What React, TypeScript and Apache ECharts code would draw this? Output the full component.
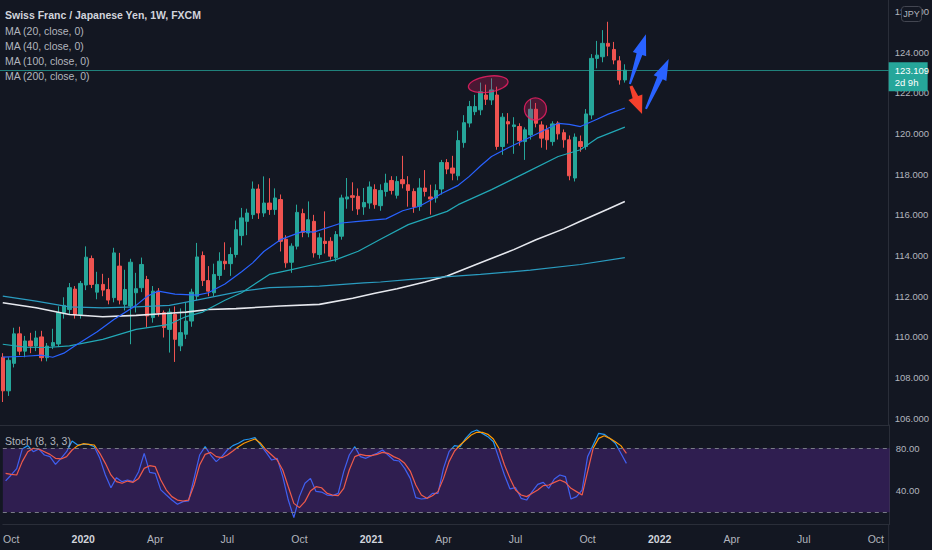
import React, { useEffect, useRef } from 'react';
import * as echarts from 'echarts';

// ---------- data ----------
const START = Date.UTC(2019, 8, 30); // first weekly bar (Mon 30 Sep 2019)
const WEEK_COUNT = 160;
const MONTHS = ['Jan', 'Feb', 'Mar', 'Apr', 'May', 'Jun', 'Jul', 'Aug', 'Sep', 'Oct', 'Nov', 'Dec'];
const weeks: string[] = [];
for (let i = 0; i < WEEK_COUNT; i++) {
  weeks.push(new Date(START + i * 7 * 86400000).toISOString().slice(0, 10));
}

// [open, close, low, high]
const candles: number[][] = [
  [109.0, 107.35, 106.8, 109.2], [107.35, 108.85, 107.1, 109.0], [108.7, 110.15, 108.5, 110.45], [110.15, 109.3, 109.1, 110.5],
  [109.3, 109.8, 109.0, 110.05], [109.8, 109.55, 109.2, 110.2], [109.55, 109.95, 109.3, 110.3], [110.0, 108.98, 108.8, 110.3],
  [108.98, 109.55, 108.8, 109.7], [109.55, 109.72, 109.4, 110.4], [109.65, 111.2, 109.5, 111.5], [111.2, 111.55, 110.9, 111.95],
  [111.35, 112.42, 111.1, 112.65], [112.35, 111.1, 110.9, 112.5], [111.1, 112.63, 110.9, 112.75], [112.55, 113.92, 112.3, 114.45],
  [113.85, 112.58, 112.4, 114.0], [112.2, 112.58, 111.85, 113.2], [112.58, 112.3, 112.0, 113.1], [112.33, 111.81, 111.6, 112.9],
  [111.93, 114.13, 111.7, 114.38], [113.48, 111.81, 111.6, 114.13], [111.6, 112.33, 111.3, 113.3], [111.52, 113.67, 109.64, 113.84],
  [112.17, 112.37, 111.2, 113.15], [112.42, 113.56, 112.2, 113.9], [112.82, 111.03, 110.46, 113.0], [110.95, 112.25, 110.7, 112.5],
  [112.25, 111.19, 111.0, 112.4], [111.19, 110.46, 109.97, 111.3], [110.37, 111.22, 109.23, 111.4], [111.1, 109.88, 108.77, 111.5],
  [109.56, 110.21, 109.3, 111.4], [110.13, 110.78, 109.9, 111.68], [110.78, 112.2, 110.5, 112.37], [112.0, 113.93, 111.8, 114.62],
  [114.0, 112.77, 112.5, 114.2], [112.77, 112.25, 112.0, 113.48], [112.17, 113.07, 112.0, 113.6], [113.02, 113.72, 112.8, 114.16],
  [113.72, 113.6, 113.3, 114.65], [113.6, 114.05, 113.0, 114.4], [114.05, 115.27, 113.9, 115.72], [114.98, 115.85, 114.5, 116.34],
  [115.68, 116.09, 115.0, 116.3], [116.01, 117.27, 115.8, 117.64], [117.27, 116.09, 115.8, 117.5], [116.09, 116.58, 115.9, 117.89],
  [116.58, 116.26, 116.0, 117.8], [116.26, 116.83, 116.0, 117.3], [116.75, 114.7, 114.2, 117.0], [114.8, 113.64, 113.4, 115.0],
  [113.67, 114.46, 113.15, 114.6], [114.46, 116.12, 114.3, 116.5], [116.06, 115.14, 114.9, 116.3], [115.11, 115.76, 114.9, 116.66],
  [115.68, 114.13, 113.9, 116.0], [114.05, 114.87, 113.85, 115.1], [114.7, 114.59, 114.1, 116.17], [114.7, 113.97, 113.8, 114.9],
  [113.89, 115.03, 113.7, 115.2], [114.95, 116.83, 114.78, 116.99], [116.78, 116.88, 116.3, 117.81], [116.94, 116.86, 116.2, 117.6],
  [116.91, 116.29, 116.0, 117.3], [116.39, 116.61, 116.0, 117.32], [116.58, 117.37, 116.3, 117.64], [117.24, 116.5, 116.3, 117.5],
  [116.45, 117.2, 116.2, 117.5], [117.15, 117.56, 116.9, 118.02], [117.69, 117.2, 117.0, 117.9], [116.96, 117.64, 116.8, 117.9],
  [117.73, 117.53, 117.3, 118.9], [117.48, 117.2, 116.4, 117.9], [117.15, 116.39, 116.1, 117.3], [116.42, 117.32, 116.2, 117.8],
  [117.32, 117.15, 116.9, 118.2], [116.88, 116.78, 116.01, 117.48], [116.83, 117.2, 116.6, 117.5], [117.27, 118.57, 117.0, 118.7],
  [118.57, 118.25, 118.0, 118.74], [118.3, 118.05, 117.7, 118.9], [117.92, 119.65, 117.7, 120.14], [119.55, 120.53, 119.3, 120.9],
  [120.51, 121.32, 120.3, 121.6], [121.07, 121.32, 120.9, 121.9], [121.16, 122.05, 120.9, 122.5], [121.89, 121.68, 121.4, 122.4],
  [121.65, 122.14, 121.4, 122.71], [121.89, 119.36, 119.2, 122.3], [119.36, 120.8, 118.95, 121.0], [120.58, 120.47, 119.5, 121.0],
  [120.34, 120.42, 119.0, 120.8], [120.34, 119.65, 119.4, 120.5], [119.6, 120.18, 118.7, 120.3], [119.93, 121.19, 119.7, 121.7],
  [121.19, 120.5, 120.3, 121.5], [120.42, 119.77, 119.3, 120.6], [120.18, 119.69, 119.2, 120.4], [119.6, 120.47, 119.4, 120.6],
  [120.51, 119.98, 119.7, 120.6], [120.04, 119.69, 119.3, 120.2], [119.69, 117.92, 117.7, 119.9], [117.81, 119.82, 117.64, 120.0],
  [119.6, 119.36, 119.1, 119.9], [119.36, 120.96, 119.2, 121.2], [120.91, 123.69, 120.7, 123.9], [123.69, 123.85, 123.2, 124.55],
  [123.77, 124.43, 123.5, 125.08], [124.43, 124.29, 123.8, 125.49], [124.13, 123.61, 123.4, 124.5], [123.57, 122.63, 122.4, 123.8],
  [122.63, 123.109, 122.5, 123.4],
];
const lastPrice = 123.109;

// moving averages, read at bar indexes: [barIndex, value]
const ma20Pts = [
  [0, 109.01], [4, 109.05], [7, 109.1], [9, 109.0], [11, 109.2], [13, 109.56], [17, 110.25], [20, 110.86], [24, 111.55],
  [26, 112.0], [28, 112.25], [31, 112.1], [35, 112.05], [37, 112.17], [40, 112.6], [43, 113.2], [45, 113.64], [47, 114.2],
  [50, 114.78], [54, 115.19], [56, 115.15], [61, 115.6], [64, 115.68], [69, 115.8], [72, 116.2], [75, 116.42], [77, 116.72],
  [79, 117.05], [82, 117.45], [84, 117.89], [86, 118.4], [88, 118.87], [91, 119.3], [94, 119.69], [97, 120.1], [100, 120.5],
  [102, 120.45], [104, 120.34], [107, 120.7], [109, 120.95], [112, 121.25],
];
const ma40Pts = [
  [0, 109.64], [4, 109.5], [8, 109.48], [12, 109.56], [18, 109.88], [24, 110.37], [30, 110.62], [33, 111.0], [36, 111.22],
  [40, 111.8], [43, 112.17], [48, 113.07], [52, 113.31], [56, 113.56], [60, 113.8], [64, 114.21], [68, 114.8], [73, 115.52],
  [80, 116.17], [82, 116.5], [84, 116.75], [88, 117.24], [94, 118.05], [100, 118.87], [104, 119.2], [107, 119.77], [112, 120.31],
];
const ma100Pts = [
  [0, 112.0], [6, 111.76], [12, 111.48], [18, 111.43], [24, 111.48], [30, 111.55], [34, 111.76], [43, 112.25], [48, 112.42],
  [57, 112.5], [65, 112.66], [68, 112.7], [73, 112.82], [77, 112.9], [86, 113.07], [95, 113.28], [104, 113.56], [112, 113.9],
];
const ma200Pts = [
  [0, 111.68], [6, 111.43], [12, 111.1], [18, 110.99], [24, 111.06], [30, 111.16], [33, 111.22], [37, 111.35], [42, 111.39],
  [50, 111.52], [57, 111.6], [63, 111.9], [67, 112.15], [71, 112.37], [76, 112.7], [80, 112.99], [86, 113.64], [92, 114.29],
  [96, 114.78], [101, 115.31], [104, 115.68], [109, 116.29], [112, 116.66],
];

// stochastic (8,3,3)
const stochK = [
  49.4, 55, 61, 79.3, 82.5, 76.8, 79.3, 73.7, 72.2, 65, 70.6, 76.8, 86.8, 83.1, 83.7, 83.7, 81.5, 70.6, 55, 43.1,
  52.5, 48.7, 50.3, 48.7, 58.1, 75.3, 57.5, 56.5, 41, 36.2, 31.5, 27.5, 30, 30.6, 51.8, 73.7, 81.5, 73.7, 67.5, 72.2,
  78.4, 82.5, 84.7, 87.8, 88.7, 90, 83.1, 76.2, 69, 70.6, 53.4, 31.5, 15, 34.7, 47.2, 51.8, 39.6, 39, 36.2, 35.6,
  37.8, 58.1, 73.7, 81.5, 72.2, 70.6, 73.1, 75.3, 78.4, 73.7, 69, 68.1, 61.2, 51.8, 33.7, 32.5, 33.1, 37.8, 37.8, 61.2,
  76.8, 82.5, 81.5, 89.3, 95, 97.2, 94, 90.9, 86.2, 70.6, 55, 41.9, 43.1, 33.1, 31.5, 39.4, 46.2, 48.1, 42.5, 51.2,
  55, 53.4, 32.5, 34.7, 40.9, 72.2, 83.1, 94, 93.1, 89.3, 84.7, 75.3, 65.9,
];
const stochD = [
  56.5, 55.6, 55, 67.5, 76.8, 80, 79.3, 76.8, 74.3, 70.6, 70, 72.2, 78.4, 82.5, 84.3, 83.7, 83.1, 75.3, 65.9, 55,
  48.7, 47.2, 49.3, 48.1, 51.8, 61.2, 63.7, 62.8, 50.3, 40.9, 34.7, 31.5, 30.6, 31.5, 45.6, 64.3, 74.3, 76.2, 72.2, 71.2,
  73.7, 77.5, 81.5, 84.7, 86.8, 88.7, 84.7, 78.4, 73.7, 69, 59.7, 44, 28.4, 24.4, 30, 40, 44, 43, 37.8, 36.2,
  35.6, 42.5, 59.7, 72.2, 74.3, 73.1, 73.1, 74.3, 76.2, 75.3, 72.2, 70, 65.9, 58.7, 45.6, 36.2, 33.1, 35.6, 39.4, 51.8,
  67.5, 77.5, 83.1, 87.8, 92.5, 95, 95, 93.1, 88.7, 80, 64.3, 51.8, 40.9, 36.2, 34.7, 37.8, 40.9, 45, 45.6, 48.1,
  50.3, 48.1, 42.5, 39.4, 36.2, 58.1, 80, 89.3, 91.8, 89.3, 86.2, 82.5, 75.3,
];

const priceTicks = [106, 108, 110, 112, 114, 116, 118, 120, 122, 124, 126];
const stochTicks = [40, 80];
const stochBand = [20, 80];

const legendLines = ['MA (20, close, 0)', 'MA (40, close, 0)', 'MA (100, close, 0)', 'MA (200, close, 0)'];

// annotations in data space: [barIndex, price]
const highlightEllipse = { center: [87.4, 122.42] };
const highlightCircle = { center: [95.9, 121.2] };
const arrowsUp = [
  { tail: [112.9, 122.43], tip: [115.8, 124.88] },
  { tail: [115.8, 121.21], tip: [119.9, 123.66] },
];
const arrowDown = { tail: [113.1, 122.33], tip: [115.1, 120.96] };

// ---------- styling ----------
const FONT = '"Liberation Sans Narrow", "Liberation Sans", Arial, sans-serif';
const BG = '#131722';
const LINE = '#2a2e39';
const TXT = '#b2b5be';
const UP = '#26a69a';
const DOWN = '#ef5350';
const H = 550;

function monthOf(i: number) {
  return new Date(weeks[i] + 'T00:00:00Z').getUTCMonth();
}

// vertical colour switch at a pixel row (colour above / below the band's upper edge)
function splitColor(yPx: number, above: string, below: string) {
  const f = Math.min(1, Math.max(0, yPx / H));
  return {
    type: 'linear', x: 0, y: 0, x2: 0, y2: H, global: true,
    colorStops: [
      { offset: 0, color: above }, { offset: f, color: above },
      { offset: f, color: below }, { offset: 1, color: below },
    ],
  };
}

function buildOption(): any {
  const gridL = -1.5;
  const gridR = 42.3;
  return {
    animation: false,
    backgroundColor: BG,
    textStyle: { fontFamily: FONT },
    grid: [
      { left: gridL, right: gridR, top: 0, height: 425 },
      { left: gridL, right: gridR, top: 425, height: 99 },
    ],
    xAxis: [
      {
        type: 'category', gridIndex: 0, data: weeks, boundaryGap: true,
        axisLine: { show: true, lineStyle: { color: LINE } },
        axisTick: { show: false }, axisLabel: { show: false }, splitLine: { show: false },
      },
      {
        type: 'category', gridIndex: 1, data: weeks, boundaryGap: true,
        axisLine: { show: true, lineStyle: { color: LINE } },
        axisTick: { show: false }, splitLine: { show: false },
        axisLabel: {
          margin: 9,
          interval: (idx: number) => idx > 0 && monthOf(idx) !== monthOf(idx - 1) && monthOf(idx) % 3 === 0,
          formatter: (val: string) => {
            const d = new Date(val + 'T00:00:00Z');
            const m = d.getUTCMonth();
            return m === 0 ? `{y|${d.getUTCFullYear()}}` : `{m|${MONTHS[m]}}`;
          },
          rich: {
            y: { color: '#d1d4dc', fontWeight: 'bold', fontSize: 10.5, fontFamily: FONT },
            m: { color: TXT, fontSize: 10.5, fontFamily: FONT },
          },
        },
      },
    ],
    yAxis: [
      {
        type: 'value', gridIndex: 0, position: 'right', min: 105.67, max: 126.56, scale: true,
        axisLine: { show: true, lineStyle: { color: LINE } },
        axisTick: { show: false }, splitLine: { show: false },
        axisLabel: {
          customValues: priceTicks, formatter: (v: number) => v.toFixed(3),
          color: TXT, fontSize: 9.5, fontFamily: FONT, margin: 6,
        },
      },
      {
        type: 'value', gridIndex: 1, position: 'right', min: 9.05, max: 101.84,
        axisLine: { show: true, lineStyle: { color: LINE } },
        axisTick: { show: false }, splitLine: { show: false },
        axisLabel: {
          customValues: stochTicks, formatter: (v: number) => v.toFixed(2),
          color: TXT, fontSize: 9.5, fontFamily: FONT, margin: 6,
        },
      },
    ],
    series: [
      {
        type: 'candlestick', xAxisIndex: 0, yAxisIndex: 0, data: candles, barWidth: '70%',
        itemStyle: { color: UP, color0: DOWN, borderColor: UP, borderColor0: DOWN, borderWidth: 1 },
        markLine: {
          silent: true, symbol: 'none', label: { show: false },
          lineStyle: { color: UP, width: 1, type: 'solid', opacity: 0.75 },
          data: [{ yAxis: lastPrice }],
        },
      },
      { type: 'line', xAxisIndex: 0, yAxisIndex: 0, data: ma200Pts, showSymbol: false, silent: true, lineStyle: { color: '#e6e8ee', width: 1.6 } },
      { type: 'line', xAxisIndex: 0, yAxisIndex: 0, data: ma100Pts, showSymbol: false, silent: true, lineStyle: { color: '#2a9cc0', width: 1.2 } },
      { type: 'line', xAxisIndex: 0, yAxisIndex: 0, data: ma40Pts, showSymbol: false, silent: true, lineStyle: { color: '#22a8b6', width: 1.2 } },
      { type: 'line', xAxisIndex: 0, yAxisIndex: 0, data: ma20Pts, showSymbol: false, silent: true, lineStyle: { color: '#2962ff', width: 1.2 } },
      {
        id: 'stochK', type: 'line', xAxisIndex: 1, yAxisIndex: 1, data: stochK, showSymbol: false, silent: true,
        lineStyle: { width: 1.2, color: '#3f5ff0' },
        markArea: {
          silent: true,
          itemStyle: { color: 'rgba(126,52,214,0.26)' },
          data: [[{ yAxis: stochBand[0] }, { yAxis: stochBand[1] }]],
        },
      },
      {
        id: 'stochD', type: 'line', xAxisIndex: 1, yAxisIndex: 1, data: stochD, showSymbol: false, silent: true,
        lineStyle: { width: 1.2, color: '#ef5a4a' },
        markLine: {
          silent: true, symbol: 'none', label: { show: false },
          lineStyle: { color: '#787b86', type: [4, 4], width: 1 },
          data: [{ yAxis: stochBand[0] }, { yAxis: stochBand[1] }],
        },
      },
    ],
  };
}

function arrowPoints(t: number[], p: number[], tailW: number, shaftW: number, headW: number, headL: number) {
  const dx = p[0] - t[0];
  const dy = p[1] - t[1];
  const len = Math.hypot(dx, dy);
  const ux = dx / len, uy = dy / len;
  const nx = -uy, ny = ux;
  const hx = p[0] - ux * headL, hy = p[1] - uy * headL;
  return [
    [t[0] + (nx * tailW) / 2, t[1] + (ny * tailW) / 2],
    [hx + (nx * shaftW) / 2, hy + (ny * shaftW) / 2],
    [hx + (nx * headW) / 2, hy + (ny * headW) / 2],
    [p[0], p[1]],
    [hx - (nx * headW) / 2, hy - (ny * headW) / 2],
    [hx - (nx * shaftW) / 2, hy - (ny * shaftW) / 2],
    [t[0] - (nx * tailW) / 2, t[1] - (ny * tailW) / 2],
  ];
}

function buildGraphics(chart: any): any[] {
  const xA = chart.convertToPixel({ xAxisIndex: 0 }, 0);
  const xB = chart.convertToPixel({ xAxisIndex: 0 }, 100);
  const xAt = (i: number) => xA + ((xB - xA) * i) / 100;
  const yAt = (p: number) => chart.convertToPixel({ yAxisIndex: 0 }, p);
  const pt = (d: number[]) => [xAt(d[0]), yAt(d[1])];
  const axisX = xAt(WEEK_COUNT - 0.5);
  const priceY = yAt(lastPrice);

  const g: any[] = [];
  // legend
  g.push({
    type: 'text', x: 5, y: 15, z: 100,
    style: { text: 'Swiss Franc / Japanese Yen, 1W, FXCM', fill: '#d1d4dc', font: `600 10.5px ${FONT}`, textVerticalAlign: 'middle' },
  });
  legendLines.forEach((t, k) => {
    g.push({
      type: 'text', x: 5, y: 30.5 + k * 15.3, z: 100,
      style: { text: t, fill: TXT, font: `10.5px ${FONT}`, textVerticalAlign: 'middle' },
    });
  });
  g.push({
    type: 'text', x: 5, y: 441, z: 100,
    style: { text: 'Stoch (8, 3, 3)', fill: TXT, font: `10.5px ${FONT}`, textVerticalAlign: 'middle' },
  });
  // separator continuing through the time scale
  g.push({ type: 'line', z: 100, shape: { x1: axisX, y1: 524, x2: axisX, y2: 550 }, style: { stroke: LINE, lineWidth: 1 } });
  // currency badge
  g.push({
    type: 'rect', z: 100, shape: { x: 901.5, y: 6.5, width: 20, height: 15, r: 3 },
    style: { fill: BG, stroke: '#434651', lineWidth: 1 },
  });
  g.push({
    type: 'text', z: 101, x: 911.5, y: 14,
    style: { text: 'JPY', fill: TXT, font: `9px ${FONT}`, textAlign: 'center', textVerticalAlign: 'middle' },
  });
  // last price badge
  g.push({ type: 'rect', z: 100, shape: { x: axisX, y: priceY - 8, width: 39, height: 29 }, style: { fill: UP } });
  g.push({
    type: 'text', z: 101, x: axisX + 6, y: priceY + 0.5,
    style: { text: lastPrice.toFixed(3), fill: '#ffffff', font: `9.5px ${FONT}`, textVerticalAlign: 'middle' },
  });
  g.push({
    type: 'text', z: 101, x: axisX + 6, y: priceY + 12.5,
    style: { text: '2d 9h', fill: '#ffffff', font: `9.5px ${FONT}`, textVerticalAlign: 'middle' },
  });
  // highlight shapes
  const ec = pt(highlightEllipse.center);
  g.push({
    type: 'ellipse', z: 50, x: ec[0], y: ec[1], rotation: 0.15,
    shape: { cx: 0, cy: 0, rx: 20, ry: 8 },
    style: { fill: 'rgba(216,27,96,0.28)', stroke: 'rgba(233,30,99,0.85)', lineWidth: 1.3 },
  });
  const cc = pt(highlightCircle.center);
  g.push({
    type: 'circle', z: 50, shape: { cx: cc[0], cy: cc[1], r: 11 },
    style: { fill: 'rgba(216,27,96,0.28)', stroke: 'rgba(233,30,99,0.85)', lineWidth: 1.3 },
  });
  // arrows
  arrowsUp.forEach((a) => {
    g.push({
      type: 'polygon', z: 60,
      shape: { points: arrowPoints(pt(a.tail), pt(a.tip), 2, 6, 14, 21) },
      style: { fill: '#2962ff' },
    });
  });
  g.push({
    type: 'polygon', z: 61,
    shape: { points: arrowPoints(pt(arrowDown.tail), pt(arrowDown.tip), 3, 6, 15, 18) },
    style: { fill: '#f5402c' },
  });
  return g;
}

export default function App() {
  const ref = useRef<HTMLDivElement>(null);
  useEffect(() => {
    document.body.style.margin = '0';
    document.body.style.background = BG;
    const chart = echarts.init(ref.current as HTMLDivElement, undefined, { renderer: 'svg' });
    chart.setOption(buildOption());
    const y80 = chart.convertToPixel({ yAxisIndex: 1 }, stochBand[1]) as number;
    chart.setOption({
      series: [
        { id: 'stochK', lineStyle: { color: splitColor(y80, '#2196f3', '#3f5ff0') } },
        { id: 'stochD', lineStyle: { color: splitColor(y80, '#ff9800', '#ef5a4a') } },
      ],
      graphic: buildGraphics(chart),
    });
    return () => chart.dispose();
  }, []);
  return <div ref={ref} style={{ position: 'fixed', left: 0, top: 0, width: 932, height: 550 }} />;
}
